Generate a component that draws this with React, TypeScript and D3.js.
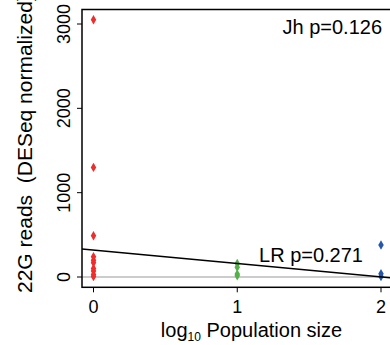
import React from "react";
import * as d3 from "d3";

const groups = [0, 1, 2];
const groupColors = ["#ee2d2d", "#55b04a", "#2557ad"];
const redValues = [3050, 1300, 490, 240, 200, 170, 100, 70, 30, 5];
const greenValues = [160, 115, 35, 15];
const blueValues = [380, 40, 5];
const seriesValues = [redValues, greenValues, blueValues];
const yTicks = [0, 1000, 2000, 3000];
const xTicks = [0, 1, 2];
const fitIntercept = 320;
const fitSlope = -160;
const jhLabel = "Jh p=0.126";
const lrLabel = "LR p=0.271";
const yTitle = "22G reads  (DESeq normalized)";

export default function App() {
  const W = 390, H = 345;
  const left = 82, top = 9.5, bottom = 287.3, right = 392.5;
  const x = d3.scaleLinear().domain([-0.08, 2.08]).range([left, right]);
  const y = d3.scaleLinear().domain([-122, 3172]).range([bottom, top]);
  const diamond = d3.symbol().type(d3.symbolDiamond).size(26)();
  const font = "'Liberation Sans', Arial, Helvetica, sans-serif";
  const line = d3.line<number>().x((d) => x(d)).y((d) => y(fitIntercept + fitSlope * d));
  return (
    <svg width={W} height={H} style={{ position: "absolute", left: 0, top: 0, fontFamily: font }}>
      <rect width={W} height={H} fill="white" />
      <line x1={left} x2={right} y1={y(0)} y2={y(0)} stroke="#bbbbbb" strokeWidth={1.5} />
      {seriesValues.map((vals, gi) =>
        vals.map((v, i) => (
          <path key={gi + "-" + i} d={diamond!} transform={`translate(${x(groups[gi])},${y(v)})`} fill={groupColors[gi]} />
        ))
      )}
      <path d={line([-0.08, 2.08])!} stroke="black" strokeWidth={1.5} fill="none" />
      <rect x={left} y={top} width={right - left} height={bottom - top} fill="none" stroke="black" strokeWidth={1.5} />
      {yTicks.map((t) => (
        <g key={t}>
          <line x1={left - 5} x2={left} y1={y(t)} y2={y(t)} stroke="black" strokeWidth={1} />
          <text transform={`translate(70,${y(t)}) rotate(-90)`} textAnchor="middle" fontSize={18} fill="black">
            {t}
          </text>
        </g>
      ))}
      {xTicks.map((t) => (
        <g key={t}>
          <line x1={x(t)} x2={x(t)} y1={bottom} y2={bottom + 5} stroke="black" strokeWidth={1} />
          <text x={x(t)} y={313} textAnchor="middle" fontSize={18} fill="black">
            {t}
          </text>
        </g>
      ))}
      <text x={251.5} y={336.5} textAnchor="middle" fontSize={20} fill="black">
        log<tspan fontSize={12} dy={4}>10</tspan>
        <tspan dy={-4}> Population size</tspan>
      </text>
      <text transform={`translate(32,293) rotate(-90)`} textAnchor="start" fontSize={21} fill="black" style={{ whiteSpace: "pre" }}>
        {yTitle}
      </text>
      <text x={382} y={33.5} textAnchor="end" fontSize={20} fill="black">{jhLabel}</text>
      <text x={363} y={261.5} textAnchor="end" fontSize={20} fill="black">{lrLabel}</text>
    </svg>
  );
}
